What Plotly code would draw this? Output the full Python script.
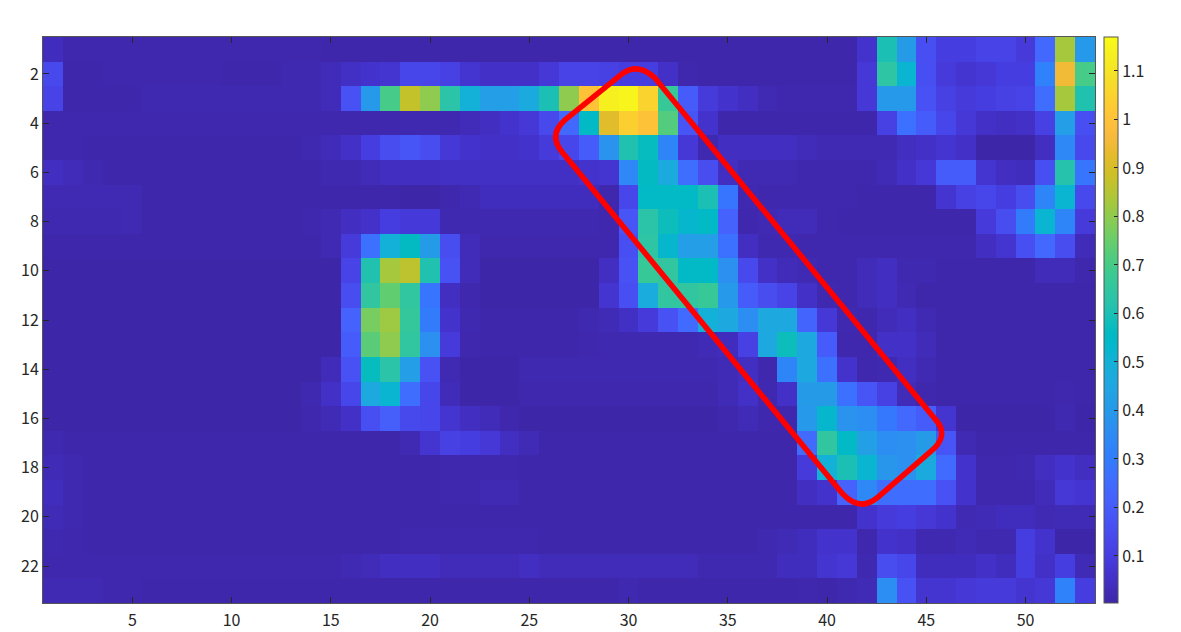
import plotly.graph_objects as go

# Heatmap values, one list per row (53 columns)
r01 = [.035,.012,.012,.012,.012,.012,.012,.012,.012,.012, .012,.012,.012,.012,.006,.006,.006,.006,.006,.006, .006,.006,.006,.006,.006,.006,.006,.006,.006,.006, .006,.006,.006,.006,.006,.006,.006,.006,.006,.006, .006,.06,.60,.41,.16,.10,.10,.12,.12,.09, .24,.83,.40]
r02 = [.14,.008,.008,.012,.012,.012,.012,.012,.012,.008, .008,.008,.015,.015,.03,.045,.06,.07,.13,.13, .11,.07,.05,.05,.05,.08,.12,.12,.11,.10, .10,.05,.012,.006,.006,.006,.006,.006,.006,.006, .006,.08,.64,.52,.16,.09,.07,.08,.10,.10, .32,.95,.70]
r03 = [.12,.008,.008,.008,.008,.015,.015,.015,.015,.015, .015,.015,.015,.015,.03,.17,.40,.70,.87,.80, .63,.50,.42,.42,.47,.60,.80,1.00,1.14,1.15, 1.05,.67,.20,.09,.06,.04,.02,.01,.01,.01, .01,.08,.40,.40,.17,.11,.09,.10,.11,.12, .26,.83,.61]
r04 = [.01,.01,.01,.012,.012,.012,.012,.012,.012,.012, .012,.012,.012,.012,.012,.012,.012,.012,.015,.015, .015,.03,.04,.06,.08,.14,.24,.55,.92,1.04, 1.00,.72,.18,.06,.008,.008,.008,.008,.008,.008, .008,.008,.11,.27,.20,.13,.08,.05,.04,.05, .11,.42,.16]
r05 = [.012,.012,.008,.008,.008,.008,.008,.008,.008,.008, .008,.008,.008,.015,.03,.05,.10,.15,.18,.15, .08,.06,.05,.05,.06,.09,.13,.20,.38,.61, .57,.33,.08,.015,.04,.04,.04,.04,.03,.02, .02,.02,.02,.04,.05,.07,.05,.005,.005,.005, .04,.34,.14]
r06 = [.04,.03,.015,.008,.008,.008,.008,.008,.008,.008, .008,.008,.008,.008,.015,.015,.03,.04,.04,.04, .045,.045,.045,.045,.045,.045,.045,.06,.07,.34, .56,.47,.26,.15,.04,.02,.02,.02,.012,.012, .012,.012,.025,.05,.08,.20,.20,.07,.04,.035, .16,.62,.28]
r07 = [.02,.02,.02,.02,.02,.006,.006,.006,.006,.006, .006,.006,.006,.006,.006,.006,.006,.006,.004,.004, .01,.02,.035,.035,.035,.035,.035,.035,.01,.13, .55,.55,.55,.60,.28,.015,.012,.012,.012,.012, .012,.008,.008,.008,.008,.07,.11,.13,.10,.15, .33,.52,.14]
r08 = [.015,.015,.015,.015,.02,.008,.008,.008,.008,.008, .008,.008,.008,.012,.02,.04,.055,.10,.085,.085, .015,.015,.015,.015,.015,.015,.015,.015,.01,.18, .63,.58,.53,.55,.22,.01,.02,.03,.03,.012, .008,.008,.008,.008,.008,.008,.008,.09,.15,.30, .52,.33,.09]
r09 = [.006,.006,.006,.006,.006,.006,.006,.006,.006,.006, .006,.006,.006,.006,.02,.09,.27,.50,.56,.41, .15,.03,.01,.01,.01,.01,.01,.01,.01,.16, .64,.53,.42,.42,.27,.04,.015,.015,.01,.01, .01,.01,.01,.01,.01,.01,.01,.04,.07,.16, .24,.15,.03]
r10 = [.005,.005,.005,.005,.005,.005,.005,.005,.005,.005, .005,.005,.005,.005,.005,.12,.61,.83,.86,.61, .17,.03,.005,.005,.005,.005,.005,.005,.04,.17, .67,.65,.55,.55,.37,.14,.05,.03,.02,.01, .01,.03,.04,.015,.015,.006,.006,.006,.006,.006, .03,.03,.01]
r11 = [.005,.005,.005,.005,.005,.005,.005,.005,.005,.005, .005,.005,.005,.005,.005,.15,.65,.74,.65,.28, .04,.01,.005,.005,.005,.005,.005,.005,.07,.16, .48,.65,.65,.67,.40,.20,.15,.12,.05,.015, .01,.03,.04,.02,.008,.008,.008,.008,.008,.008, .008,.008,.008]
r12 = [.005,.005,.005,.005,.005,.005,.005,.005,.005,.005, .005,.005,.005,.005,.005,.22,.77,.82,.66,.30, .06,.015,.006,.006,.006,.006,.006,.015,.025,.045, .09,.17,.25,.50,.46,.36,.46,.46,.23,.08, .015,.01,.03,.04,.02,.006,.006,.006,.006,.006, .006,.006,.006]
r13 = [.005,.005,.005,.005,.005,.005,.005,.005,.005,.005, .005,.005,.005,.005,.005,.20,.73,.80,.65,.37, .09,.01,.006,.006,.006,.006,.006,.01,.015,.015, .015,.015,.015,.025,.035,.11,.46,.58,.46,.20, .01,.01,.05,.05,.03,.006,.006,.006,.006,.006, .006,.006,.006]
r14 = [.005,.005,.005,.005,.005,.005,.005,.005,.005,.005, .005,.005,.005,.005,.03,.17,.57,.63,.42,.17, .02,.005,.005,.005,.015,.015,.015,.015,.015,.015, .015,.015,.015,.015,.025,.04,.01,.33,.46,.27, .06,.01,.015,.04,.02,.006,.006,.006,.006,.006, .006,.006,.006]
r15 = [.005,.005,.005,.005,.005,.005,.005,.005,.005,.005, .005,.005,.005,.015,.05,.13,.46,.52,.26,.13, .03,.005,.005,.005,.012,.012,.012,.012,.012,.012, .012,.012,.012,.012,.025,.05,.015,.05,.41,.41, .27,.18,.11,.03,.01,.006,.006,.006,.006,.006, .006,.012,.006]
r16 = [.005,.005,.005,.005,.005,.005,.005,.005,.005,.005, .005,.005,.005,.012,.025,.05,.16,.21,.14,.13, .07,.04,.03,.01,.005,.005,.005,.005,.005,.005, .005,.005,.005,.005,.012,.025,.01,.01,.40,.53, .38,.36,.29,.24,.20,.07,.005,.005,.005,.005, .005,.015,.005]
r17 = [.015,.006,.006,.006,.006,.006,.006,.006,.006,.006, .006,.006,.006,.006,.006,.006,.006,.008,.02,.07, .11,.10,.08,.04,.025,.006,.006,.006,.006,.006, .006,.006,.006,.006,.006,.006,.006,.006,.25,.65, .55,.43,.36,.37,.41,.18,.02,.008,.006,.006, .006,.006,.006]
r18 = [.025,.015,.006,.006,.006,.006,.006,.006,.006,.006, .006,.006,.006,.006,.006,.006,.006,.006,.006,.006, .012,.012,.012,.012,.006,.006,.006,.006,.006,.006, .006,.006,.006,.006,.006,.006,.006,.006,.09,.50, .60,.52,.39,.37,.47,.25,.06,.01,.01,.015, .04,.06,.04]
r19 = [.035,.015,.006,.006,.006,.006,.006,.006,.006,.006, .006,.006,.006,.006,.006,.006,.006,.006,.006,.006, .012,.012,.02,.02,.006,.006,.006,.006,.006,.006, .006,.006,.006,.006,.006,.006,.006,.006,.04,.06, .22,.34,.26,.26,.26,.17,.06,.01,.01,.01, .03,.08,.07]
r20 = [.025,.015,.008,.006,.006,.006,.006,.006,.006,.006, .006,.006,.006,.006,.006,.006,.006,.006,.006,.006, .006,.006,.006,.006,.006,.006,.006,.006,.006,.006, .006,.006,.006,.006,.006,.006,.006,.006,.006,.006, .006,.06,.09,.10,.08,.06,.02,.025,.035,.035, .02,.025,.025]
r21 = [.015,.012,.008,.006,.006,.006,.006,.006,.006,.006, .006,.006,.006,.006,.006,.006,.006,.006,.012,.012, .012,.012,.012,.012,.012,.006,.006,.006,.006,.006, .006,.006,.006,.006,.006,.006,.015,.025,.035,.06, .06,.01,.06,.05,.015,.015,.025,.015,.015,.10, .06,.005,.005]
r22 = [.012,.012,.012,.012,.012,.012,.012,.012,.012,.012, .012,.012,.012,.012,.012,.02,.03,.04,.04,.04, .03,.03,.03,.03,.04,.03,.03,.03,.03,.03, .03,.03,.03,.015,.015,.015,.015,.035,.035,.07, .08,.015,.15,.13,.035,.035,.035,.05,.035,.10, .05,.10,.025]
r23 = [.02,.02,.02,.012,.012,.006,.006,.006,.006,.006, .006,.006,.006,.006,.006,.006,.006,.006,.006,.006, .006,.006,.006,.006,.006,.006,.006,.006,.006,.015, .006,.006,.006,.006,.006,.006,.006,.006,.012,.006, .015,.025,.36,.17,.07,.07,.08,.09,.09,.07, .08,.32,.10]
rows = [r01, r02, r03, r04, r05, r06, r07, r08, r09, r10, r11, r12,
        r13, r14, r15, r16, r17, r18, r19, r20, r21, r22, r23]

x_ticks = [5, 10, 15, 20, 25, 30, 35, 40, 45, 50]
y_ticks = [2, 4, 6, 8, 10, 12, 14, 16, 18, 20, 22]
cbar_ticks = [0.1, 0.2, 0.3, 0.4, 0.5, 0.6, 0.7, 0.8, 0.9, 1, 1.1]
cbar_labels = ["0.1", "0.2", "0.3", "0.4", "0.5", "0.6", "0.7", "0.8", "0.9", "1", "1.1"]

parula = [
    (.2422,.1504,.6603),(.2504,.1650,.7076),(.2578,.1818,.7511),(.2647,.1978,.7952),
    (.2706,.2147,.8364),(.2751,.2342,.8710),(.2783,.2559,.8991),(.2803,.2782,.9221),
    (.2813,.3006,.9414),(.2810,.3228,.9579),(.2795,.3447,.9717),(.2760,.3667,.9829),
    (.2699,.3892,.9906),(.2602,.4123,.9952),(.2440,.4358,.9988),(.2206,.4603,.9973),
    (.1963,.4847,.9892),(.1834,.5074,.9798),(.1786,.5289,.9682),(.1764,.5499,.9520),
    (.1687,.5703,.9359),(.1540,.5902,.9218),(.1460,.6091,.9079),(.1380,.6276,.8973),
    (.1248,.6459,.8883),(.1113,.6635,.8763),(.0952,.6798,.8598),(.0689,.6948,.8394),
    (.0297,.7082,.8163),(.0036,.7203,.7917),(.0067,.7312,.7660),(.0433,.7411,.7394),
    (.0964,.7500,.7120),(.1408,.7584,.6842),(.1717,.7670,.6554),(.1938,.7758,.6251),
    (.2161,.7843,.5923),(.2470,.7918,.5567),(.2906,.7973,.5188),(.3406,.8008,.4789),
    (.3909,.8029,.4354),(.4456,.8024,.3909),(.5044,.7993,.3480),(.5616,.7942,.3045),
    (.6174,.7876,.2612),(.6720,.7793,.2227),(.7242,.7698,.1910),(.7738,.7598,.1646),
    (.8203,.7498,.1535),(.8634,.7406,.1596),(.9035,.7330,.1774),(.9393,.7288,.2100),
    (.9728,.7298,.2394),(.9956,.7434,.2371),(.9970,.7659,.2199),(.9952,.7893,.2028),
    (.9892,.8136,.1885),(.9786,.8386,.1766),(.9676,.8639,.1643),(.9610,.8890,.1537),
    (.9597,.9135,.1423),(.9628,.9373,.1265),(.9691,.9606,.1064),(.9769,.9839,.0805),
]
colorscale = [[i / 63, f"rgb({round(r*255)},{round(g*255)},{round(b*255)})"]
              for i, (r, g, b) in enumerate(parula)]

FAMILY = "Noto Sans CJK JP, Noto Sans, sans-serif"
INK = "#262626"
FONT = dict(family=FAMILY, size=16, color=INK)

fig = go.Figure(go.Heatmap(
    z=rows,
    x=list(range(1, 54)),
    y=list(range(1, 24)),
    zmin=0.003, zmax=1.17,
    colorscale=colorscale,
    colorbar=dict(
        thickness=14, thicknessmode="pixels", len=1, lenmode="fraction",
        x=1.0086, xanchor="left", xpad=0, y=0.5, yanchor="middle", ypad=0,
        tickvals=cbar_ticks, ticktext=cbar_labels,
        ticks="inside", ticklen=4, tickcolor=INK, tickwidth=1,
        tickfont=FONT,
        outlinecolor="#555555", outlinewidth=1,
    ),
))

# Red rounded rectangle outline (annotation over the heatmap, in data coordinates)
outline = ("M 26.8 3.87 L 29.67 2.0 Q 30.47 1.52 31.33 2.17 "
           "L 45.49 16.07 Q 46.19 16.72 45.18 17.37 "
           "L 42.57 19.2 Q 41.66 19.81 40.8 19.08 "
           "L 26.65 5.17 Q 25.94 4.48 26.8 3.87 Z")
fig.add_shape(type="path", path=outline, xref="x", yref="y",
              line=dict(color="#ff0000", width=5.5), fillcolor="rgba(0,0,0,0)", layer="above")

fig.update_xaxes(range=[0.5, 53.5], tickvals=x_ticks, ticks="inside", ticklen=6,
                 tickcolor=INK, tickwidth=1, showline=True, linecolor="#555555", linewidth=1,
                 mirror="ticks", showgrid=False, zeroline=False, tickfont=FONT,
                 automargin=False, ticklabelstandoff=3)
fig.update_yaxes(range=[23.5, 0.5], tickvals=y_ticks, ticks="inside", ticklen=6,
                 tickcolor=INK, tickwidth=1, showline=True, linecolor="#555555", linewidth=1,
                 mirror="ticks", showgrid=False, zeroline=False, tickfont=FONT,
                 automargin=False)

fig.update_layout(width=1181, height=632, autosize=False,
                  margin=dict(l=43, r=86, t=37, b=29, pad=0),
                  paper_bgcolor="white", plot_bgcolor="white", font=FONT)

fig.write_html("out.html", config={"displayModeBar": False},
               post_script="document.body.style.margin='0';document.body.style.overflow='hidden';")
